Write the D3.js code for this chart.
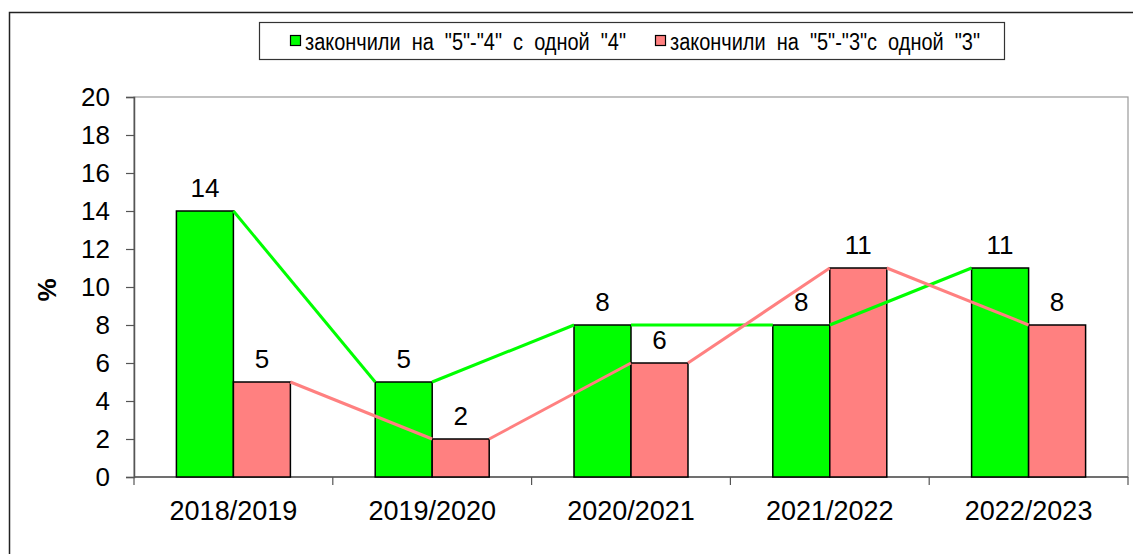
<!DOCTYPE html>
<html>
<head>
<meta charset="utf-8">
<script src="https://cdn.jsdelivr.net/npm/d3@7"></script>
<style>
  html, body { margin: 0; padding: 0; background: #fff; }
  svg text { font-family: "Liberation Sans", Arial, sans-serif; fill: #000; }
</style>
</head>
<body>
<div id="chart"></div>
<script>
const categories = ["2018/2019", "2019/2020", "2020/2021", "2021/2022", "2022/2023"];
const seriesNames = ["закончили  на  \"5\"-\"4\"  с  одной  \"4\"", "закончили  на  \"5\"-\"3\"с  одной  \"3\""];
const fourValues = [14, 5, 8, 8, 11];
const threeValues = [5, 2, 6, 11, 8];
const yTicks = [0, 2, 4, 6, 8, 10, 12, 14, 16, 18, 20];

const colors = ["#00ff00", "#ff8080"];
const W = 1133, H = 554;
const plot = {left: 134, top: 97, right: 1128, bottom: 477};

const svg = d3.select("#chart").append("svg")
    .attr("width", W)
    .attr("height", H);

// outer frame (runs off the right and bottom edge)
svg.append("rect")
    .attr("x", 9.5).attr("y", 12.5)
    .attr("width", 1140).attr("height", 560)
    .attr("fill", "#fff")
    .attr("stroke", "#222")
    .attr("stroke-width", 1.5);

const x = d3.scaleBand().domain(categories).range([plot.left, plot.right]);
const xs = d3.scaleBand().domain([0, 1]).range([0, x.bandwidth()]).paddingOuter(0.744);
const y = d3.scaleLinear().domain([0, 20]).range([plot.bottom, plot.top]);

// plot area border
svg.append("rect")
    .attr("x", plot.left).attr("y", plot.top)
    .attr("width", plot.right - plot.left).attr("height", plot.bottom - plot.top)
    .attr("fill", "none")
    .attr("stroke", "#999")
    .attr("stroke-width", 1.2);

// y axis
const yAxis = svg.append("g")
    .attr("transform", `translate(${plot.left},0)`)
    .call(d3.axisLeft(y).tickValues(yTicks).tickSize(8).tickPadding(16).tickFormat(d3.format("d")));
yAxis.select(".domain").attr("stroke", "#555").attr("stroke-width", 1.5);
yAxis.selectAll(".tick line").attr("stroke", "#555").attr("stroke-width", 1.2);
yAxis.selectAll(".tick text")
    .style("font-family", "'Liberation Sans', Arial, sans-serif")
    .style("font-size", "26px")
    .attr("fill", "#000");

svg.append("text")
    .attr("transform", "translate(56,290) rotate(-90)")
    .attr("text-anchor", "middle")
    .style("font-size", "26px")
    .style("font-weight", "bold")
    .text("%");

// x axis
svg.append("line")
    .attr("x1", plot.left).attr("x2", plot.right)
    .attr("y1", plot.bottom).attr("y2", plot.bottom)
    .attr("stroke", "#555").attr("stroke-width", 1.5);

const boundaries = categories.map(c => x(c)).concat([plot.right]);
svg.selectAll(".xtick").data(boundaries).enter()
    .append("line")
    .attr("x1", d => d).attr("x2", d => d)
    .attr("y1", plot.bottom).attr("y2", plot.bottom + 8)
    .attr("stroke", "#555").attr("stroke-width", 1.2);

svg.selectAll(".xlabel").data(categories).enter()
    .append("text")
    .attr("x", d => x(d) + x.bandwidth() / 2)
    .attr("y", 520)
    .attr("text-anchor", "middle")
    .style("font-size", "27px")
    .text(d => d);

// bars
const series = [fourValues, threeValues];
series.forEach((vals, s) => {
    svg.selectAll(".bar" + s).data(vals).enter()
        .append("rect")
        .attr("x", (d, i) => x(categories[i]) + xs(s))
        .attr("y", d => y(d))
        .attr("width", xs.bandwidth())
        .attr("height", d => y(0) - y(d))
        .attr("fill", colors[s])
        .attr("stroke", "#000")
        .attr("stroke-width", 1.5);
});

// series lines: right top corner of a bar to left top corner of the next one
series.forEach((vals, s) => {
    const segs = d3.pairs(vals.map((d, i) => ({cat: categories[i], v: d})));
    svg.selectAll(".seg" + s).data(segs).enter()
        .append("line")
        .attr("x1", d => x(d[0].cat) + xs(s) + xs.bandwidth())
        .attr("y1", d => y(d[0].v))
        .attr("x2", d => x(d[1].cat) + xs(s))
        .attr("y2", d => y(d[1].v))
        .attr("stroke", colors[s])
        .attr("stroke-width", 3);
});

// value labels
series.forEach((vals, s) => {
    svg.selectAll(".lab" + s).data(vals).enter()
        .append("text")
        .attr("x", (d, i) => x(categories[i]) + xs(s) + xs.bandwidth() / 2)
        .attr("y", d => y(d) - 14)
        .attr("text-anchor", "middle")
        .style("font-size", "26px")
        .text(d => d);
});

// legend
const legend = svg.append("g");
legend.append("rect")
    .attr("x", 259.5).attr("y", 22.5)
    .attr("width", 745).attr("height", 37)
    .attr("fill", "#fff")
    .attr("stroke", "#333")
    .attr("stroke-width", 1.2);
const legendX = [290, 655];
const legendTextW = [321, 310];
seriesNames.forEach((name, s) => {
    legend.append("rect")
        .attr("x", legendX[s] + 0.5).attr("y", 35.5)
        .attr("width", 10).attr("height", 10)
        .attr("fill", colors[s])
        .attr("stroke", "#000")
        .attr("stroke-width", 1.2);
    legend.append("text")
        .attr("x", legendX[s] + 15)
        .attr("y", 50)
        .attr("textLength", legendTextW[s])
        .attr("lengthAdjust", "spacingAndGlyphs")
        .style("font-size", "23px")
        .style("white-space", "pre")
        .text(name);
});
</script>
</body>
</html>
